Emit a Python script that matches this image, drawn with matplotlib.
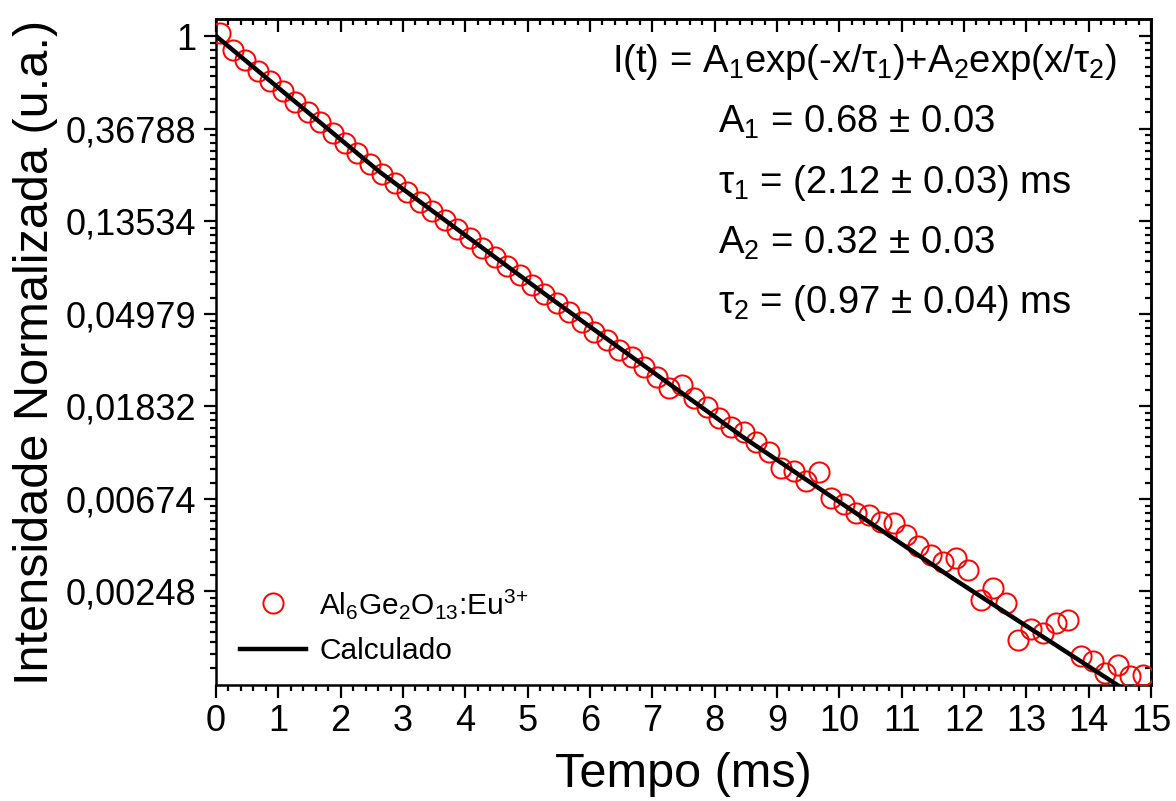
import matplotlib
matplotlib.use('Agg')
import matplotlib.pyplot as plt
import numpy as np
from matplotlib.lines import Line2D
from matplotlib.ticker import FixedLocator, NullFormatter

plt.rcParams['font.family'] = ['Liberation Sans', 'DejaVu Sans']
plt.rcParams['mathtext.fontset'] = 'custom'
plt.rcParams['mathtext.rm'] = 'Liberation Sans'
plt.rcParams['mathtext.it'] = 'Liberation Sans'
plt.rcParams['mathtext.bf'] = 'Liberation Sans:bold'

# measured decay (normalised), 0.2 ms steps
tempo = [0.07, 0.27, 0.47, 0.67, 0.87, 1.07, 1.27, 1.47, 1.67, 1.87,
         2.07, 2.27, 2.47, 2.67, 2.87, 3.07, 3.27, 3.47, 3.67, 3.87,
         4.07, 4.27, 4.47, 4.67, 4.87, 5.07, 5.27, 5.47, 5.67, 5.87,
         6.07, 6.27, 6.47, 6.67, 6.87, 7.07, 7.27, 7.47, 7.67, 7.87,
         8.07, 8.27, 8.47, 8.67, 8.87, 9.07, 9.27, 9.47, 9.67, 9.87,
         10.07, 10.27, 10.47, 10.67, 10.87, 11.07, 11.27, 11.47, 11.67, 11.87,
         12.07, 12.27, 12.47, 12.67, 12.87, 13.07, 13.27, 13.47, 13.67, 13.87,
         14.07, 14.27, 14.47, 14.67, 14.87]
intensidade = [1.03, 0.859, 0.768, 0.687, 0.615, 0.550, 0.492, 0.440, 0.393, 0.352,
               0.3145, 0.2814, 0.2518, 0.2256, 0.2045, 0.1849, 0.1674, 0.1514, 0.1371, 0.1242,
               0.1123, 0.1017, 0.0919, 0.0833, 0.0754, 0.0682, 0.0617, 0.0560, 0.0508, 0.0455,
               0.0409, 0.0375, 0.0337, 0.0312, 0.0280, 0.0252, 0.0223, 0.0231, 0.0201, 0.0182,
               0.0162, 0.0147, 0.0139, 0.0125, 0.0112, 0.00942, 0.00911, 0.00818, 0.00902, 0.00681,
               0.00638, 0.00579, 0.00566, 0.00526, 0.00520, 0.00457, 0.00406, 0.00368, 0.00341, 0.00356,
               0.00313, 0.00226, 0.00258, 0.00219, 0.00147, 0.00165, 0.00158, 0.00177, 0.00182, 0.00124,
               0.00117, 0.00103, 0.00112, 0.000997, 0.00101]

# fitted curve
fit_t = [0.0, 2.63, 5.36, 8.45, 11.81, 14.46]
fit_y = [1.0, 0.230, 0.0591, 0.01317, 0.00287, 0.000903]

ytick_vals = [1, 0.36788, 0.13534, 0.04979, 0.01832, 0.00674, 0.00248]
ytick_labels = ['1', '0,36788', '0,13534', '0,04979', '0,01832', '0,00674', '0,00248']
xticks = list(range(0, 16))

fig = plt.figure(figsize=(11.76, 8.01), dpi=100)
ax = fig.add_axes([216/1176, 1-685/801, (1151-216)/1176, (685-19)/801])

ax.plot(tempo, intensidade, 'o', ms=14.5, mfc='none', mec='red', mew=1.4, zorder=3)
ax.plot(fit_t, fit_y, '-', color='black', lw=3.2, zorder=4)

ax.set_yscale('log')
ax.set_xlim(0, 15)
ax.set_ylim(np.exp(-7.01), np.exp(0.184))

# minor y ticks: 8 evenly spaced values inside each e-decade
minors = []
for k in range(0, 8):
    lo, hi = np.exp(-(k + 1)), np.exp(-k)
    minors += [lo + j * (hi - lo) / 9 for j in range(1, 9)]
minors = [m for m in minors if m > np.exp(-7.01)]

ax.yaxis.set_major_locator(FixedLocator(ytick_vals))
ax.yaxis.set_minor_locator(FixedLocator(minors))
ax.set_yticklabels(ytick_labels)
ax.yaxis.set_minor_formatter(NullFormatter())
ax.set_xticks(xticks)
ax.set_xticks(np.arange(0, 15.01, 0.2), minor=True)

ax.tick_params(which='major', direction='out', length=9, width=1.6, labelsize=26, pad=5)
ax.tick_params(which='minor', direction='out', length=4.5, width=1.6)
for s in ax.spines.values():
    s.set_linewidth(1.8)

# inward ticks on top and right
top = ax.secondary_xaxis('top')
top.set_xticks(xticks)
top.xaxis.set_minor_locator(FixedLocator(np.arange(0, 15.01, 0.2)))
top.tick_params(which='major', direction='in', length=9, width=1.6, labeltop=False)
top.tick_params(which='minor', direction='in', length=4.5, width=1.6)
top.spines['top'].set_linewidth(1.8)
right = ax.secondary_yaxis('right')
right.yaxis.set_major_locator(FixedLocator(ytick_vals))
right.yaxis.set_minor_locator(FixedLocator(minors))
right.yaxis.set_minor_formatter(NullFormatter())
right.tick_params(which='major', direction='in', length=9, width=1.6, labelright=False)
right.tick_params(which='minor', direction='in', length=4.5, width=1.6)
right.spines['right'].set_linewidth(1.8)

ax.set_xlabel('Tempo (ms)', fontsize=35, labelpad=9)
ax.set_ylabel('Intensidade Normalizada (u.a.)', fontsize=35, labelpad=6)

# fit parameters
fs = 27.5
fig.text(612/1176, 1-62/801, r'I(t) = A$_1$exp(-x/$\tau_1$)+A$_2$exp(x/$\tau_2$)', fontsize=fs, va='center')
fig.text(718/1176, 1-122/801, r'A$_1$ = 0.68 ± 0.03', fontsize=fs, va='center')
fig.text(718/1176, 1-183/801, r'$\tau_1$ = (2.12 ± 0.03) ms', fontsize=fs, va='center')
fig.text(718/1176, 1-243/801, r'A$_2$ = 0.32 ± 0.03', fontsize=fs, va='center')
fig.text(718/1176, 1-303/801, r'$\tau_2$ = (0.97 ± 0.04) ms', fontsize=fs, va='center')

handles = [Line2D([], [], ls='none', marker='o', ms=14.5, mfc='none', mec='red', mew=1.4),
           Line2D([], [], color='black', lw=3.2)]
ax.legend(handles, [r'Al$_6$Ge$_2$O$_{13}$:Eu$^{3{+}}$', 'Calculado'],
          loc='lower left', bbox_to_anchor=(240/1176, 136/801), bbox_transform=fig.transFigure,
          frameon=False, borderpad=0, borderaxespad=0,
          fontsize=21.5, handlelength=2.2, handletextpad=0.45, labelspacing=0.55)

fig.savefig('out.png', dpi=100, facecolor='white')
